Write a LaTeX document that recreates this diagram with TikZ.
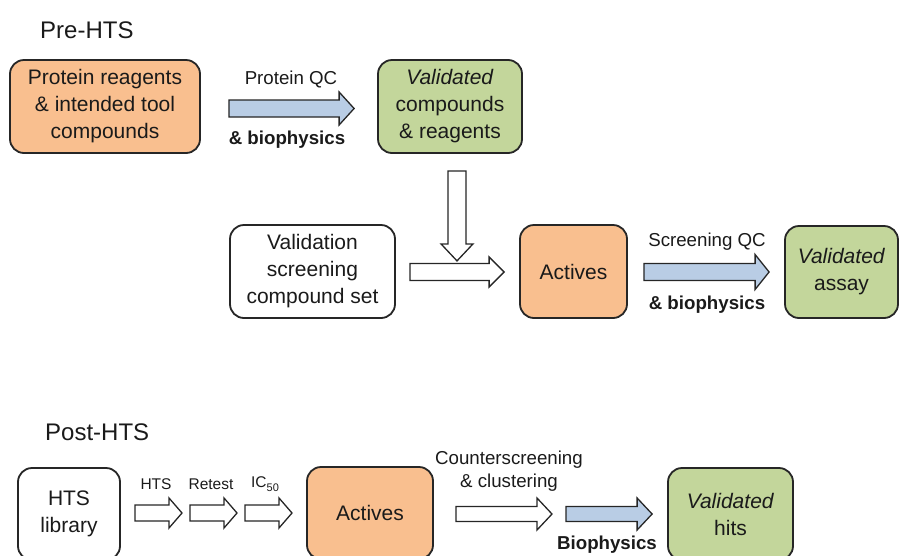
\documentclass[tikz,border=0pt]{standalone}
\usepackage{fontspec}
\setmainfont{Liberation Sans}
\usetikzlibrary{calc}
\definecolor{boxorange}{HTML}{F9BF8F}
\definecolor{boxgreen}{HTML}{C3D69B}
\definecolor{arrowblue}{HTML}{B9CDE5}
\definecolor{inkline}{HTML}{262626}
\definecolor{inktext}{HTML}{1A1A1A}

% block arrow: fill, start, end, shaft half-width, head half-width, head length (pt)
\newcommand\blockarrow[6]{%
  \coordinate (ba-h) at ($(#3)!#6pt!(#2)$);
  \draw[blockline, fill=#1]
    ($(#2)!#4pt!90:(#3)$) -- ($(ba-h)!#4pt!90:(#3)$) -- ($(ba-h)!#5pt!90:(#3)$)
    -- (#3) -- ($(ba-h)!#5pt!-90:(#3)$) -- ($(ba-h)!#4pt!-90:(#3)$)
    -- ($(#2)!#4pt!-90:(#3)$) -- cycle;
}

\begin{document}
\begin{tikzpicture}[x=1pt,y=1pt,
  stagebox/.style={draw=inkline, line width=1.8pt, rounded corners=14pt,
    align=center, text=inktext, inner sep=0pt,
    font=\fontsize{21}{27}\selectfont},
  blockline/.style={draw=inkline, line width=1.3pt, line join=miter},
  lbl/.style={text=inktext, inner sep=0pt, font=\fontsize{18.7}{22}\selectfont},
  blbl/.style={lbl, font=\fontsize{18.7}{22}\selectfont\bfseries},
  slbl/.style={text=inktext, inner sep=0pt, font=\fontsize{15.5}{18}\selectfont},
  heading/.style={text=inktext, inner sep=0pt, anchor=west, font=\fontsize{24}{28}\selectfont}]
\useasboundingbox (0,0) rectangle (902,-555);
\clip (0,0) rectangle (902,-555);

% ---------- Pre-HTS ----------
\node[heading] (pre) at (40,-30) {Pre-HTS};

\node[stagebox, fill=boxorange, minimum width=190pt, minimum height=93pt]
  (prot) at (105,-106.5) {Protein reagents\\\& intended tool\\compounds};
\node[stagebox, fill=boxgreen, minimum width=144pt, minimum height=93pt]
  (valcomp) at (450,-106.5) {\textit{Validated}\\compounds\\\& reagents};
\node[stagebox, fill=white, minimum width=165pt, minimum height=93pt]
  (vscs) at (312.5,-271.5) {Validation\\screening\\compound set};
\node[stagebox, fill=boxorange, minimum width=107pt, minimum height=93pt]
  (act1) at (573.5,-271.5) {Actives};
\node[stagebox, fill=boxgreen, minimum width=113pt, minimum height=92pt]
  (valassay) at (841.5,-272) {\textit{Validated}\\assay};

\coordinate (p1s) at ($(prot.east)+(28,-2)$);
\coordinate (p1e) at ($(valcomp.west)+(-23,-2)$);
\blockarrow{arrowblue}{p1s}{p1e}{8.5}{16.5}{15}
\node[lbl] (pqc) at (291,-79) {Protein QC};
\node[blbl] (pbio) at (287,-140) {\& biophysics};

\coordinate (d1s) at ($(valcomp.south)+(7,-17)$);
\coordinate (d1e) at ($(valcomp.south)+(7,-107)$);
\blockarrow{white}{d1s}{d1e}{9}{16}{17}

\coordinate (w1s) at ($(vscs.east)+(14,-0.5)$);
\coordinate (w1e) at ($(act1.west)+(-15,-0.5)$);
\blockarrow{white}{w1s}{w1e}{8.5}{15}{15}

\coordinate (s1s) at ($(act1.east)+(16,-0.5)$);
\coordinate (s1e) at ($(valassay.west)+(-15,0)$);
\blockarrow{arrowblue}{s1s}{s1e}{8.5}{17.5}{14}
\node[lbl] (sqc) at (707,-242) {Screening QC};
\node[blbl] (sbio) at (707,-305) {\& biophysics};

% ---------- Post-HTS ----------
\node[heading] (post) at (45,-432) {Post-HTS};

\node[stagebox, fill=white, minimum width=102pt, minimum height=92pt]
  (htslib) at (69,-514) {HTS\\library};
\node[stagebox, fill=boxorange, minimum width=126pt, minimum height=92pt]
  (act2) at (370,-513) {Actives};
\node[stagebox, fill=boxgreen, minimum width=125pt, minimum height=92pt]
  (valhits) at (730.5,-514) {\textit{Validated}\\hits};

\coordinate (h1s) at (135,-513);
\coordinate (h1e) at (182,-513);
\coordinate (h2s) at (190,-513);
\coordinate (h2e) at (237,-513);
\coordinate (h3s) at (245,-513);
\coordinate (h3e) at (292,-513);
\blockarrow{white}{h1s}{h1e}{8}{15}{13}
\blockarrow{white}{h2s}{h2e}{8}{15}{13}
\blockarrow{white}{h3s}{h3e}{8}{15}{13}
\node[slbl] (lhts) at (156,-484) {HTS};
\node[slbl] (lret) at (211,-484) {Retest};
\node[slbl] (lic) at (265,-484) {IC\raisebox{-3.5pt}{\fontsize{11}{12}\selectfont 50}};

\coordinate (c1s) at ($(act2.east)+(22,-1)$);
\coordinate (c1e) at (552,-514);
\blockarrow{white}{c1s}{c1e}{7.5}{16}{15}
\coordinate (b1s) at (566,-514);
\coordinate (b1e) at ($(valhits.west)+(-15,0)$);
\blockarrow{arrowblue}{b1s}{b1e}{7.5}{16}{15}
\node[lbl, align=center, font=\fontsize{18.7}{23}\selectfont] (lcs) at (509,-471)
  {Counterscreening\\\& clustering};
\node[blbl] (lbio) at (607,-545) {Biophysics};
\end{tikzpicture}
\end{document}
